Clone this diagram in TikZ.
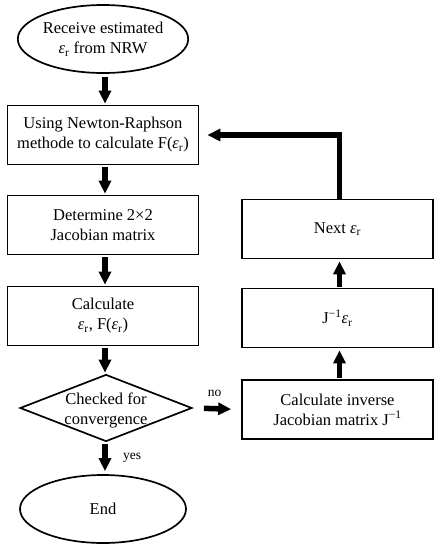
\documentclass[tikz,border=0pt]{standalone}
\usepackage{fontspec}
\setmainfont{Liberation Serif}
\usetikzlibrary{shapes.geometric,arrows.meta}
\newcommand\epsr{\textit{ε}\textsubscript{r}}
\begin{document}
\begin{tikzpicture}[x=1pt,y=-1pt,
  font=\fontsize{16.5}{20}\selectfont,
  box/.style={draw, line width=1.7pt, minimum width=191pt, minimum height=59pt, align=center, inner sep=0pt},
  term/.style={ellipse, draw, line width=1.7pt, minimum width=166pt, minimum height=68pt, align=center, inner sep=0pt},
  dec/.style={diamond, draw, line width=1.7pt, minimum width=172pt, minimum height=67pt, aspect=2.57, align=center, inner sep=0pt},
  flow/.style={line width=5.5pt, -{Triangle[length=13pt,width=12pt]}},
  lab/.style={font=\fontsize{13.5}{16}\selectfont}
]
\useasboundingbox (0,0) rectangle (444,550);
\node[term] (start) at (103,39) {Receive estimated\\\epsr{} from NRW};
\node[box] (newton) at (103,135) {Using Newton-Raphson\\methode to calculate F(\epsr)};
\node[box] (jac) at (103,225) {Determine 2×2\\Jacobian matrix};
\node[box] (calc) at (103,316) {Calculate\\\epsr, F(\epsr)};
\node[dec] (conv) at (106,408) {};
\node[align=center, inner sep=0pt] (convtext) at ([yshift=-2pt]conv.center) {Checked for\\convergence};
\node[term] (end) at (103,509) {End};
\node[box] (inv) at (337.5,409.5) {Calculate inverse\\Jacobian matrix J\textsuperscript{−1}};
\node[box] (jer) at (337.5,318) {J\textsuperscript{−1}\epsr};
\node[box] (next) at (337.5,229) {Next \epsr};

\draw[flow, shorten <=3pt, shorten >=1pt] ([xshift=2pt]start.south) -- ([xshift=2pt]newton.north);
\draw[flow, shorten <=2pt, shorten >=1pt] ([xshift=2pt]newton.south) -- ([xshift=2pt]jac.north);
\draw[flow, shorten <=2pt, shorten >=1pt] ([xshift=2pt]jac.south) -- ([xshift=2pt]calc.north);
\draw[flow, shorten <=2pt, shorten >=1pt] ([xshift=2pt]calc.south) -- ([xshift=-1pt]conv.north);
\draw[flow, shorten <=2pt, shorten >=3pt] ([xshift=-1pt]conv.south) -- node[lab, right=12pt, pos=0.5] {yes} ([xshift=2pt]end.north);
\draw[flow, shorten <=11pt, shorten >=10pt] (conv.east) -- node[lab, above=6pt, pos=0.45] {no} (inv.west);
\draw[flow, shorten <=1pt, shorten >=2pt] ([xshift=2pt]inv.north) -- ([xshift=2pt]jer.south);
\draw[flow, shorten <=1pt, shorten >=2pt] ([xshift=2pt]jer.north) -- ([xshift=2pt]next.south);
\draw[flow, shorten >=8pt] ([xshift=2pt]next.north) -- ([xshift=2pt]next.north |- newton.east) -- (newton.east);
\end{tikzpicture}
\end{document}
